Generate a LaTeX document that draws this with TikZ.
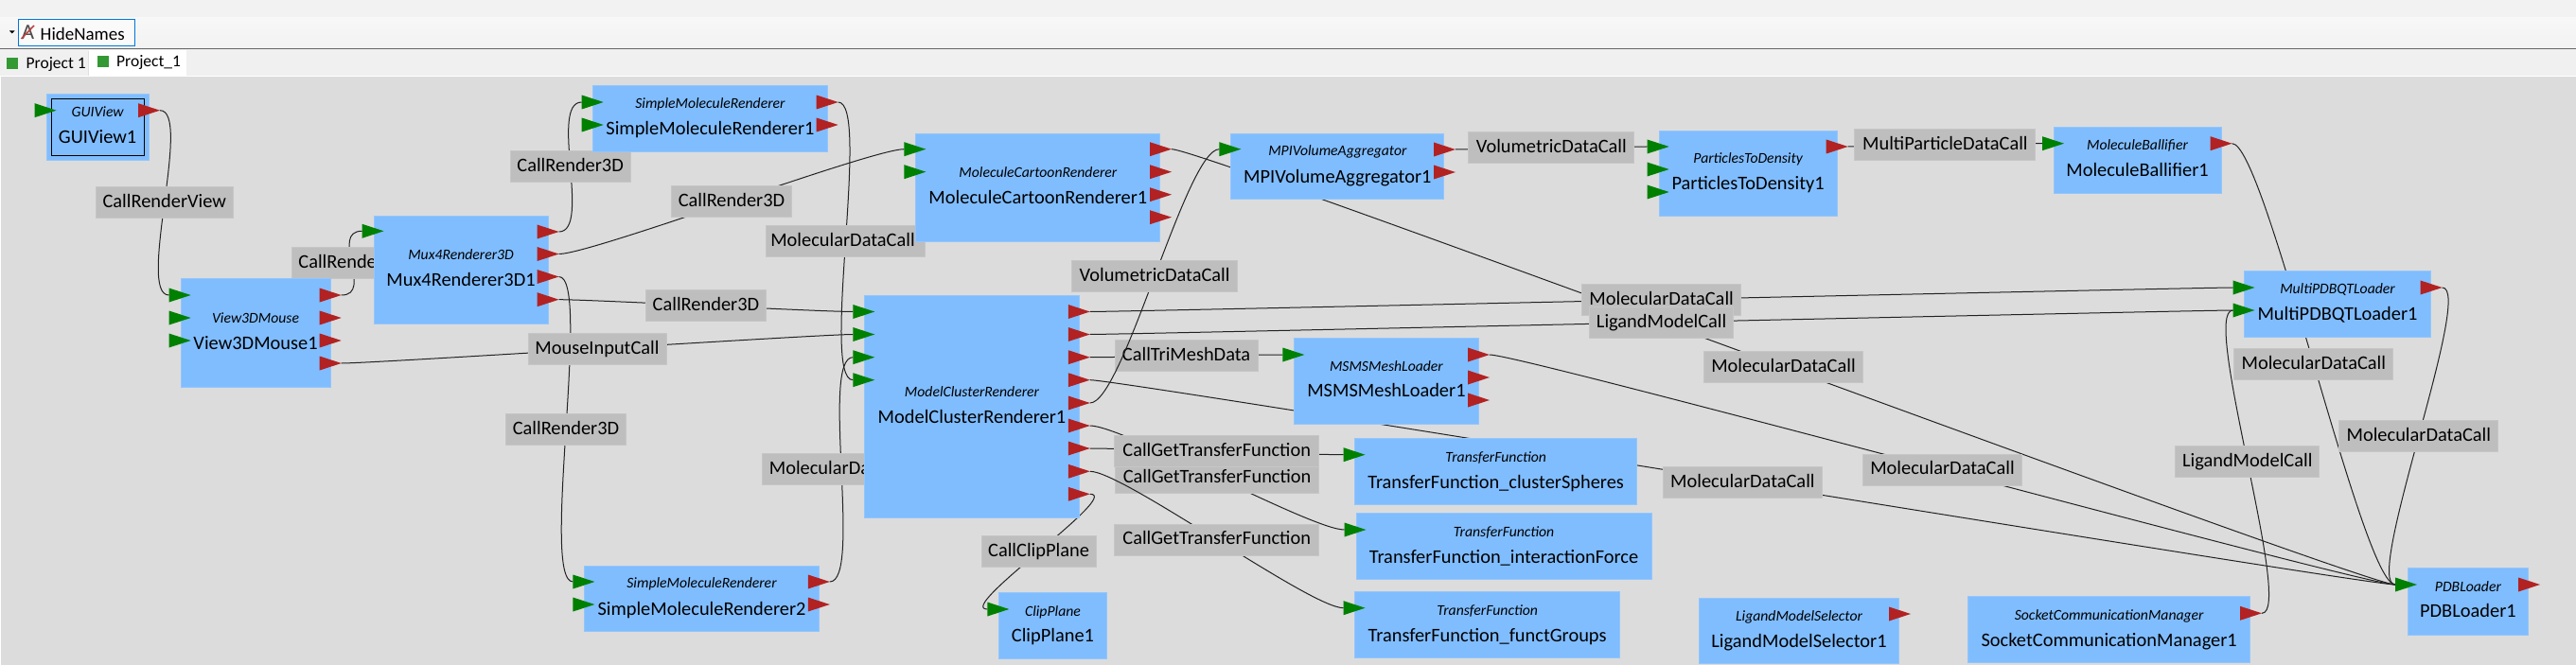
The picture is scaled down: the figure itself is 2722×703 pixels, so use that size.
\documentclass[tikz,border=0pt]{standalone}
\usepackage{fontspec}
\setmainfont{Carlito}
\usetikzlibrary{calc}
\definecolor{canvas}{HTML}{DCDCDC}
\definecolor{modfill}{HTML}{80BDFF}
\definecolor{modedge}{HTML}{93C6FA}
\definecolor{callfill}{HTML}{BEBEBE}
\definecolor{calledge}{HTML}{C6C6C6}
\definecolor{portin}{HTML}{008000}
\definecolor{portout}{HTML}{B22222}
\definecolor{wire}{HTML}{222222}
\definecolor{focus}{HTML}{0078D7}
\definecolor{tabgreen}{HTML}{339933}
\tikzset{
  modbox/.style={fill=modfill,draw=modedge,line width=1pt,inner sep=0pt,outer sep=0pt},
  typetxt/.style={font=\fontsize{15.7}{16}\selectfont\itshape,inner sep=0pt,anchor=base,text=black},
  nametxt/.style={font=\fontsize{20.4}{21}\selectfont,inner sep=0pt,anchor=base,text=black},
  calllbl/.style={fill=callfill,draw=calledge,line width=1pt,inner sep=0pt,outer sep=0pt,minimum height=33pt,
    font=\fontsize{20.4}{21}\selectfont,text=black,text height=10.5pt,text depth=0pt},
  wireline/.style={draw=wire,line width=1pt},
  uitxt/.style={font=\fontsize{19}{20}\selectfont,inner sep=0pt,anchor=base west,text=black},
}
% id, x1,y1,x2,y2, type, type centre y, name, name centre y
\newcommand\mbmodule[9]{%
  \node[modbox,minimum width={#4-#2-1},minimum height={#5-#3-1}] (#1) at ({(#2+#4)/2},{(#3+#5)/2}) {};
  \node[typetxt] (#1-type) at ({(#2+#4)/2},{#7+5}) {#6};
  \node[nametxt] (#1-name) at ({(#2+#4)/2},{#9+6}) {#8};
}
\newcommand\inport[1]{\fill[portin] (#1) ++(0,-7.5) -- ++(23,7.5) -- ++(-23,7.5) -- cycle;}
\newcommand\outport[1]{\fill[portout] (#1) ++(-23,-7.5) -- ++(23,7.5) -- ++(-23,7.5) -- cycle;}
% from, to, label id, width, text
\newcommand\mbcall[5]{%
  \draw[wireline] (#1) .. controls +(35,0) and +(-35,0) .. (#2);
  \node[calllbl,minimum width={#4-1}] (#3) at ($(#1)!.5!(#2)$) {#5};
}
\begin{document}
\begin{tikzpicture}[x=1pt,y=-1pt]
\useasboundingbox (0,0) rectangle (2722,703);
% window
\fill[white] (0,0) rectangle (2722,703);
\fill[black!5] (0,0) rectangle (2722,19);
\shade[top color=white!97!black,bottom color=black!5] (0,19) rectangle (2722,51);
\fill[black!6] (0,52) rectangle (2722,80);
\draw[black!60,line width=1pt] (0,51.5) -- (2722,51.5);
\fill[white] (94,53) rectangle (197,80);
\draw[black!12,line width=1pt] (93.5,54) -- (93.5,80);
\fill[canvas] (1,81) rectangle (2722,703);
% toolbar
\fill[black] (10,32.5) -- (15.5,32.5) -- (12.75,35.5) -- cycle;
\draw[focus,line width=1pt,fill=white!98!black] (19.5,20.5) rectangle (142.5,48.5);
\node[inner sep=0pt,anchor=base,text=black!70] (hideicon) at (29.5,41.5) {\fontsize{23}{23}\selectfont A};
\draw[portout!85!white,line width=1.6pt] (22.5,41) -- (36,27);
\node[uitxt] (hidenames) at (42.5,42.5) {HideNames};
% tabs
\fill[tabgreen] (7,61) rectangle (19,73);
\node[uitxt,font=\fontsize{17.5}{18}\selectfont] (tab1) at (27.5,73) {Project 1};
\fill[tabgreen] (103,59) rectangle (115,71);
\node[uitxt,font=\fontsize{17.5}{18}\selectfont] (tab2) at (123,71) {Project\_1};
% port anchors
\coordinate (guiI) at (36.6,116.7);\coordinate (guiO) at (169,116.7);
\coordinate (vmI1) at (178.6,312);\coordinate (vmI2) at (178.6,336);\coordinate (vmI3) at (178.6,360);
\coordinate (vmO1) at (360.7,312);\coordinate (vmO2) at (360.7,336);\coordinate (vmO3) at (360.7,360);\coordinate (vmO4) at (360.7,384);
\coordinate (muxI) at (382.6,244.3);
\coordinate (muxO1) at (590.6,245);\coordinate (muxO2) at (590.6,268.5);\coordinate (muxO3) at (590.6,292.5);\coordinate (muxO4) at (590.6,316.7);
\coordinate (smaI1) at (614.7,108);\coordinate (smaI2) at (614.7,132);
\coordinate (smaO1) at (885.7,108);\coordinate (smaO2) at (885.7,132);
\coordinate (smbI1) at (605.4,615);\coordinate (smbI2) at (605.4,639);
\coordinate (smbO1) at (876.8,615);\coordinate (smbO2) at (876.8,639);
\coordinate (carI1) at (955.4,157.7);\coordinate (carI2) at (955.4,181.7);
\coordinate (carO1) at (1238,157.7);\coordinate (carO2) at (1238,181.7);\coordinate (carO3) at (1238,205.7);\coordinate (carO4) at (1238,229.7);
\coordinate (mpiI) at (1288.4,157.7);
\coordinate (mpiO1) at (1538,158);\coordinate (mpiO2) at (1538,182);
\coordinate (ptdI1) at (1740.6,155);\coordinate (ptdI2) at (1740.6,179);\coordinate (ptdI3) at (1740.6,203);
\coordinate (ptdO) at (1952.7,155);
\coordinate (balI) at (2158,151.7);\coordinate (balO) at (2358.6,151.7);
\coordinate (clI1) at (901.3,329.5);\coordinate (clI2) at (901.3,353.5);\coordinate (clI3) at (901.3,377.7);\coordinate (clI4) at (901.3,401.7);
\coordinate (clO1) at (1151.8,329.5);\coordinate (clO2) at (1151.8,353.5);\coordinate (clO3) at (1151.8,377.7);
\coordinate (clO4) at (1151.8,401.7);\coordinate (clO5) at (1151.8,426);\coordinate (clO6) at (1151.8,450);
\coordinate (clO7) at (1151.8,474);\coordinate (clO8) at (1151.8,498.3);\coordinate (clO9) at (1151.8,522.3);
\coordinate (msI) at (1355.4,375);
\coordinate (msO1) at (1574,375);\coordinate (msO2) at (1574,399);\coordinate (msO3) at (1574,423);
\coordinate (tfaI) at (1419.6,480.7);\coordinate (tfbI) at (1420.5,560);\coordinate (tfcI) at (1419.6,642.7);
\coordinate (clipI) at (1043.3,644);
\coordinate (lmsO) at (2019,649);
\coordinate (scmO) at (2390,648.3);
\coordinate (pdbI) at (2531,618);\coordinate (pdbO) at (2684,618);
\coordinate (mpqI1) at (2359.5,304);\coordinate (mpqI2) at (2359.5,328);\coordinate (mpqO) at (2580.6,304);
% calls: wire, then its label
\mbcall{guiO}{vmI1}{cRV}{146}{CallRenderView}
\mbcall{vmO1}{muxI}{cR1}{128}{CallRender3D}
\mbcall{muxO1}{smaI1}{cR2}{128}{CallRender3D}
\mbcall{muxO2}{carI1}{cR3}{128}{CallRender3D}
\mbcall{muxO3}{smbI1}{cR4}{128}{CallRender3D}
\mbcall{muxO4}{clI1}{cR5}{128}{CallRender3D}
\mbcall{vmO4}{clI2}{cMI}{147}{MouseInputCall}
\mbcall{smaO1}{clI4}{cMa}{169}{\hspace*{-6pt}MolecularDataCall}
\mbcall{smbO1}{clI3}{cMb}{169}{MolecularDataCall}
\mbcall{clO3}{msI}{cTM}{152}{CallTriMeshData}
\mbcall{clO5}{mpiI}{cVa}{176}{VolumetricDataCall}
\mbcall{clO6}{tfbI}{cGb}{216.5}{CallGetTransferFunction}
\mbcall{clO7}{tfaI}{cGa}{216.5}{CallGetTransferFunction}
\mbcall{clO8}{tfcI}{cGc}{216.5}{CallGetTransferFunction}
\mbcall{clO9}{clipI}{cCP}{122}{CallClipPlane}
\mbcall{clO4}{pdbI}{cMc}{169}{MolecularDataCall}
\mbcall{carO1}{pdbI}{cMd}{169}{MolecularDataCall}
\mbcall{msO1}{pdbI}{cMe}{169}{MolecularDataCall}
\mbcall{balO}{pdbI}{cMf}{169}{MolecularDataCall}
\mbcall{mpqO}{pdbI}{cMg}{169}{MolecularDataCall}
\mbcall{clO1}{mpqI1}{cMh}{169}{MolecularDataCall}
\mbcall{clO2}{mpqI2}{cLa}{153}{LigandModelCall}
\mbcall{scmO}{mpqI2}{cLb}{153}{LigandModelCall}
\mbcall{mpiO1}{ptdI1}{cVb}{176}{VolumetricDataCall}
\mbcall{ptdO}{balI}{cMP}{192}{MultiParticleDataCall}
% modules
\mbmodule{gui}{48.7}{99.3}{157.6}{170.3}{GUIView}{119}{GUIView1}{146}
\draw[black,line width=1pt] (gui.north west) ++(5,5) rectangle ($(gui.south east)+(-5,-5)$);
\mbmodule{vm}{190.6}{294.3}{349.5}{410.3}{View3DMouse}{336.7}{View3DMouse1}{363.3}
\mbmodule{mux}{394.6}{227.7}{579.5}{343.3}{Mux4Renderer3D}{269.3}{Mux4Renderer3D1}{296.7}
\mbmodule{sma}{626.3}{90.5}{874.6}{161.2}{SimpleMoleculeRenderer}{110}{SimpleMoleculeRenderer1}{136.7}
\mbmodule{smb}{617.4}{597.7}{865.6}{668.3}{SimpleMoleculeRenderer}{616.7}{SimpleMoleculeRenderer2}{644}
\mbmodule{car}{967.4}{140.7}{1226.3}{256}{MoleculeCartoonRenderer}{182.3}{MoleculeCartoonRenderer1}{210}
\mbmodule{mpi}{1300.4}{140.7}{1526.3}{211}{MPIVolumeAggregator}{160}{MPIVolumeAggregator1}{187.3}
\mbmodule{ptd}{1752.7}{137.7}{1941.5}{229.3}{ParticlesToDensity}{167.7}{ParticlesToDensity1}{195}
\mbmodule{bal}{2169.6}{134.3}{2347.5}{205.3}{MoleculeBallifier}{154}{MoleculeBallifier1}{181}
\mbmodule{cl}{913.4}{312.3}{1140.6}{548.3}{ModelClusterRenderer}{414.3}{ModelClusterRenderer1}{441.7}
\mbmodule{ms}{1367.4}{357.3}{1562.5}{449}{MSMSMeshLoader}{387}{MSMSMeshLoader1}{413}
\mbmodule{tfa}{1431.3}{463.3}{1730}{534}{TransferFunction}{483.3}{TransferFunction\_clusterSpheres}{510.7}
\mbmodule{tfb}{1432.6}{542.3}{1745.5}{613.3}{TransferFunction}{562.3}{TransferFunction\_interactionForce}{589.3}
\mbmodule{tfc}{1431.3}{625.3}{1712}{696.3}{TransferFunction}{645.3}{TransferFunction\_functGroups}{672.7}
\mbmodule{clip}{1055.4}{626.3}{1169.6}{697.3}{ClipPlane}{646}{ClipPlane1}{672.7}
\mbmodule{lms}{1794.6}{631.7}{2007.4}{702.3}{LigandModelSelector}{651}{LigandModelSelector1}{678.3}
\mbmodule{scm}{2079}{630.3}{2378.4}{701.3}{SocketCommunicationManager}{650}{SocketCommunicationManager1}{677.3}
\mbmodule{pdb}{2543.6}{600.3}{2672.2}{671.7}{PDBLoader}{620}{PDBLoader1}{646.7}
\mbmodule{mpq}{2371.4}{286.3}{2568.6}{357.3}{MultiPDBQTLoader}{306}{MultiPDBQTLoader1}{332.7}
% ports
\inport{guiI}\outport{guiO}
\inport{vmI1}\inport{vmI2}\inport{vmI3}
\outport{vmO1}\outport{vmO2}\outport{vmO3}\outport{vmO4}
\inport{muxI}\outport{muxO1}\outport{muxO2}\outport{muxO3}\outport{muxO4}
\inport{smaI1}\inport{smaI2}\outport{smaO1}\outport{smaO2}
\inport{smbI1}\inport{smbI2}\outport{smbO1}\outport{smbO2}
\inport{carI1}\inport{carI2}\outport{carO1}\outport{carO2}\outport{carO3}\outport{carO4}
\inport{mpiI}\outport{mpiO1}\outport{mpiO2}
\inport{ptdI1}\inport{ptdI2}\inport{ptdI3}\outport{ptdO}
\inport{balI}\outport{balO}
\inport{clI1}\inport{clI2}\inport{clI3}\inport{clI4}
\outport{clO1}\outport{clO2}\outport{clO3}\outport{clO4}\outport{clO5}\outport{clO6}\outport{clO7}\outport{clO8}\outport{clO9}
\inport{msI}\outport{msO1}\outport{msO2}\outport{msO3}
\inport{tfaI}\inport{tfbI}\inport{tfcI}\inport{clipI}
\outport{lmsO}\outport{scmO}
\inport{pdbI}\outport{pdbO}
\inport{mpqI1}\inport{mpqI2}\outport{mpqO}
\end{tikzpicture}
\end{document}
